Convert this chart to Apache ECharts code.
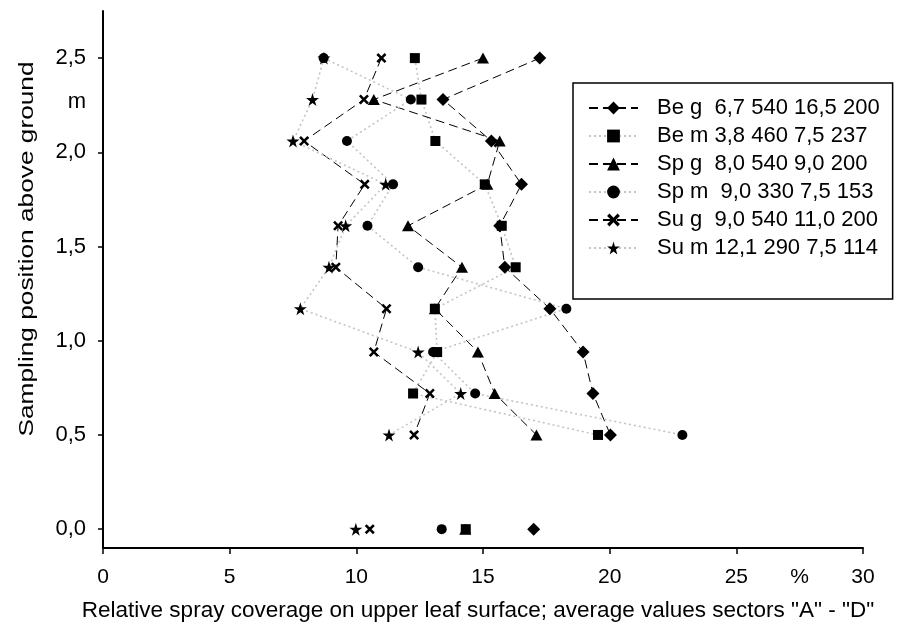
<!DOCTYPE html>
<html><head><meta charset="utf-8">
<script src="https://cdn.jsdelivr.net/npm/echarts@6/dist/echarts.min.js"></script>
<style>html,body{margin:0;padding:0;background:#fff}#c{width:909px;height:639px}</style>
</head><body><div id="c"></div>
<script>
var heights = [2.5, 2.28, 2.06, 1.83, 1.61, 1.39, 1.17, 0.94, 0.72, 0.5];
var groundHeight = 0;
var seriesNames = ['Be g  6,7 540 16,5 200', 'Be m 3,8 460 7,5 237', 'Sp g  8,0 540 9,0 200', 'Sp m  9,0 330 7,5 153', 'Su g  9,0 540 11,0 200', 'Su m 12,1 290 7,5 114'];
var beG = [17.24, 13.42, 15.33, 16.52, 15.66, 15.86, 17.64, 18.95, 19.34, 20.03];
var beM = [12.31, 12.57, 13.12, 15.07, 15.74, 16.29, 13.10, 13.19, 12.24, 19.54];
var spG = [15.0, 10.69, 15.66, 15.17, 12.04, 14.17, 13.10, 14.80, 15.46, 17.11];
var spM = [8.71, 12.15, 9.63, 11.45, 10.44, 12.44, 18.29, 13.03, 14.69, 22.87];
var suG = [10.99, 10.30, 7.94, 10.33, 9.28, 9.19, 11.19, 10.69, 12.90, 12.28];
var suM = [8.72, 8.27, 7.50, 11.16, 9.58, 8.92, 7.79, 12.44, 14.12, 11.29];
var groundValues = [17.0, 14.32, 14.3, 13.37, 10.53, 9.98];
var xTicks = [0, 5, 10, 15, 20, 25, 30];
var yTicks = [0, 0.5, 1.0, 1.5, 2.0, 2.5];
var xUnitLabel = '%', yUnitLabel = 'm';
var xTitle = 'Relative spray coverage on upper leaf surface; average values sectors "A" - "D"';
var yTitle = 'Sampling position above ground';

var FONT = 'Liberation Sans, Arial, sans-serif';
var starPath = 'path://M50,0 L61,35 L98,35 L68,57 L79,91 L50,70 L21,91 L32,57 L2,35 L39,35 Z';
var crossPath = 'path://M0,18 L18,0 L50,32 L82,0 L100,18 L68,50 L100,82 L82,100 L50,68 L18,100 L0,82 L32,50 Z';
var allVals = [beG, beM, spG, spM, suG, suM];
var symbols = ['diamond', 'rect', 'triangle', 'circle', crossPath, starPath];
var symSizes = [13, 10, [12, 11], 10, 10, 13];
var dashedStyle = {color: '#000', width: 1, type: [9, 5]};
var dottedStyle = {color: '#c4c4c4', width: 1.6, type: [2, 3]};

function build(vals, g) {
  var d = heights.map(function (h, i) { return [vals[i], h]; });
  d.push(['-', '-']);
  d.push([g, groundHeight]);
  return d;
}
var series = allVals.map(function (vals, k) {
  return {
    name: seriesNames[k], type: 'line', data: build(vals, groundValues[k]),
    symbol: symbols[k], symbolSize: symSizes[k], showSymbol: true,
    connectNulls: false, animation: false,
    lineStyle: k % 2 === 0 ? dashedStyle : dottedStyle,
    itemStyle: {color: '#000', borderWidth: 0},
    emphasis: {disabled: true}
  };
});
function fmt(v) { return v.toFixed(1).replace('.', ','); }

var chart = echarts.init(document.getElementById('c'), null, {renderer: 'canvas'});
chart.setOption({
  animation: false,
  backgroundColor: '#fff',
  grid: {left: 103, right: 46, top: 11, bottom: 91, containLabel: false},
  xAxis: {
    type: 'value', min: 0, max: 30,
    name: xTitle,
    nameLocation: 'middle', nameGap: 51,
    nameTextStyle: {fontFamily: FONT, fontSize: 22.5, color: '#000', padding: [0, 10, 0, 0]},
    axisLine: {onZero: false, lineStyle: {color: '#000', width: 2}},
    axisTick: {show: true, length: 6, inside: false, lineStyle: {color: '#000', width: 1.5}, customValues: xTicks},
    axisLabel: {fontFamily: FONT, fontSize: 21, color: '#000', margin: 19,
      customValues: xTicks.concat([27.5]),
      formatter: function (v) { return Math.abs(v - 27.5) < 1e-6 ? xUnitLabel : String(v); }},
    splitLine: {show: false}
  },
  yAxis: {
    type: 'value', min: -0.1, max: 2.75,
    axisLine: {onZero: false, lineStyle: {color: '#000', width: 2}},
    axisTick: {show: true, length: 5, inside: false, lineStyle: {color: '#000', width: 1.5}, customValues: yTicks},
    axisLabel: {fontFamily: FONT, fontSize: 22, color: '#000', margin: 17,
      customValues: yTicks.concat([2.27]),
      formatter: function (v) { return Math.abs(v - 2.27) < 1e-6 ? yUnitLabel : fmt(v); }},
    splitLine: {show: false}
  },
  graphic: [{
    type: 'text', x: 27, y: 249, rotation: Math.PI / 2, scaleX: 1.25, silent: true,
    style: {text: yTitle, font: '21px ' + FONT, fill: '#000', align: 'center', verticalAlign: 'middle'}
  }],
  legend: {
    orient: 'vertical', left: 573, top: 83,
    padding: [14, 13, 40, 15],
    borderColor: '#000', borderWidth: 1.5, backgroundColor: '#fff',
    itemWidth: 49, itemHeight: 16, itemGap: 6,
    textStyle: {fontFamily: FONT, fontSize: 22, color: '#000', lineHeight: 20, padding: [0, 0, 0, 14]},
    data: seriesNames
  },
  series: series
});
</script></body></html>
